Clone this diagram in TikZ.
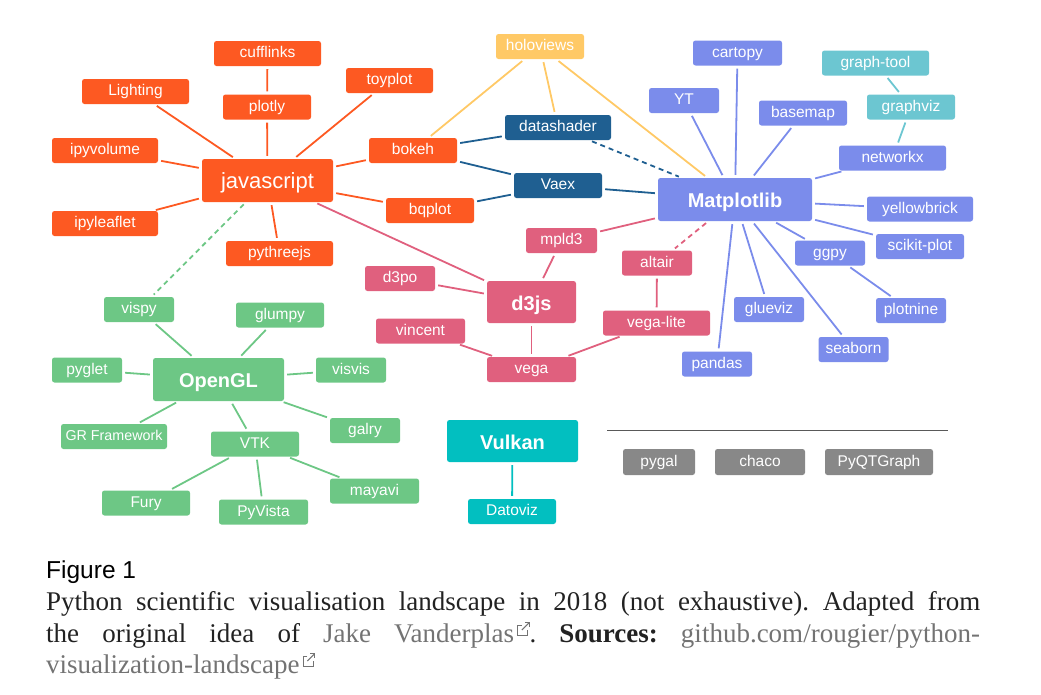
\documentclass[tikz,border=0pt]{standalone}
\usepackage{fontspec}
\setmainfont{Liberation Serif}
\newfontfamily\nodefont{Liberation Sans}
\newfontfamily\figfont{Liberation Sans}
\definecolor{jsO}{RGB}{253,89,34}
\definecolor{holoY}{RGB}{255,201,102}
\definecolor{dsB}{RGB}{31,95,145}
\definecolor{mplB}{RGB}{123,140,235}
\definecolor{gtT}{RGB}{108,198,209}
\definecolor{d3P}{RGB}{224,96,126}
\definecolor{glG}{RGB}{109,199,133}
\definecolor{vkT}{RGB}{2,191,192}
\definecolor{grN}{RGB}{136,136,136}
\definecolor{capC}{RGB}{34,34,34}
\definecolor{linkC}{RGB}{115,115,115}
\newcommand{\extl}{\hspace{3pt}\raisebox{6pt}{\tikz[x=1.2pt,y=1.2pt,line width=1pt,linkC,baseline=0pt]{\draw (4,9)--(0.5,9)--(0.5,0.5)--(9,0.5)--(9,5); \draw (4,5)--(10,11); \draw (6.5,11)--(10,11)--(10,7.5);}}}
\begin{document}
\begin{tikzpicture}[x=1pt,y=-1pt,
  box/.style={rounded corners=2.5pt, inner sep=0pt, minimum height=25pt, text=white,
    text height=12pt, text depth=3.2pt, font=\nodefont\fontsize{15.5}{15.5}\selectfont},
  big/.style={minimum height=43pt, text height=20pt, text depth=4pt, font=\nodefont\bfseries\fontsize{20}{20}\selectfont},
  js/.style={box, fill=jsO},
  holo/.style={box, fill=holoY},
  ds/.style={box, fill=dsB},
  mpl/.style={box, fill=mplB},
  gt/.style={box, fill=gtT},
  d3/.style={box, fill=d3P},
  gl/.style={box, fill=glG},
  vk/.style={box, fill=vkT},
  gr/.style={box, fill=grN, minimum height=26pt},
  ed/.style={line width=1.8pt, shorten <=3pt, shorten >=3pt},
  dsh/.style={ed, dash pattern=on 5pt off 4pt},
]
\useasboundingbox (0,0) rectangle (1041,694);
% javascript group
\node[js, minimum width=107pt] (cufflinks) at (267.5,53.5) {cufflinks};
\node[js, minimum width=107pt] (lighting) at (135.5,91.5) {Lighting};
\node[js, minimum width=87pt] (toyplot) at (389.5,80.5) {toyplot};
\node[js, minimum width=88pt] (plotly) at (267,107) {plotly};
\node[js, minimum width=106pt] (ipyvolume) at (105,150.5) {ipyvolume};
\node[js, big, minimum width=131pt, font=\nodefont\fontsize{22}{22}\selectfont] (javascript) at (267.5,180.5) {javascript};
\node[js, minimum width=88pt] (bokeh) at (413,150.5) {bokeh};
\node[js, minimum width=106pt] (ipyleaflet) at (105,223.5) {ipyleaflet};
\node[js, minimum width=88pt] (bqplot) at (430,210.5) {bqplot};
\node[js, minimum width=107pt] (pythreejs) at (279.5,253.5) {pythreejs};
% holoviews / datashader / vaex
\node[holo, minimum width=88pt] (holoviews) at (540,46.5) {holoviews};
\node[ds, minimum width=106pt] (datashader) at (558,127.5) {datashader};
\node[ds, minimum width=88pt] (vaex) at (558,185.5) {Vaex};
% matplotlib group
\node[mpl, big, minimum width=154pt] (matplotlib) at (735,199.5) {Matplotlib};
\node[mpl, minimum width=89pt] (cartopy) at (737.5,53) {cartopy};
\node[mpl, minimum width=70pt] (yt) at (684,100.5) {YT};
\node[mpl, minimum width=88pt] (basemap) at (803,113) {basemap};
\node[gt, minimum width=107pt] (graphtool) at (875.5,63) {graph-tool};
\node[gt, minimum width=88pt] (graphviz) at (911,107) {graphviz};
\node[mpl, minimum width=107pt] (networkx) at (892.5,158) {networkx};
\node[mpl, minimum width=106pt] (yellowbrick) at (920,209) {yellowbrick};
\node[mpl, minimum width=88pt] (scikitplot) at (920,246.5) {scikit-plot};
\node[mpl, minimum width=70pt] (ggpy) at (830,253) {ggpy};
\node[mpl, minimum width=70pt] (plotnine) at (911,310.5) {plotnine};
\node[mpl, minimum width=70pt] (glueviz) at (769,309.5) {glueviz};
\node[mpl, minimum width=70pt] (seaborn) at (853.5,349.5) {seaborn};
\node[mpl, minimum width=70pt] (pandas) at (717,364) {pandas};
% d3 group
\node[d3, minimum width=71pt] (mpld3) at (561.5,240.5) {mpld3};
\node[d3, minimum width=70pt] (altair) at (657,263) {altair};
\node[d3, minimum width=70pt] (d3po) at (400,278.5) {d3po};
\node[d3, big, minimum width=89pt, minimum height=42pt] (d3js) at (531.5,302) {d3js};
\node[d3, minimum width=107pt] (vegalite) at (656.5,323) {vega-lite};
\node[d3, minimum width=89pt] (vincent) at (420.5,331) {vincent};
\node[d3, minimum width=89pt] (vega) at (531.5,369.5) {vega};
% OpenGL group
\node[gl, minimum width=70pt] (vispy) at (139,309.5) {vispy};
\node[gl, minimum width=88pt] (glumpy) at (280,315) {glumpy};
\node[gl, minimum width=70pt] (pyglet) at (87,370) {pyglet};
\node[gl, big, minimum width=131pt] (opengl) at (218.5,379.5) {OpenGL};
\node[gl, minimum width=70pt] (visvis) at (351,370) {visvis};
\node[gl, minimum width=106pt, font=\nodefont\fontsize{14.3}{14.3}\selectfont] (grf) at (114,436.5) {GR Framework};
\node[gl, minimum width=70pt] (galry) at (365,430.5) {galry};
\node[gl, minimum width=88pt] (vtk) at (255,444) {VTK};
\node[gl, minimum width=88pt] (fury) at (146,503) {Fury};
\node[gl, minimum width=89pt] (pyvista) at (263.5,512) {PyVista};
\node[gl, minimum width=89pt] (mayavi) at (374.5,491) {mayavi};
% Vulkan
\node[vk, big, minimum width=131pt, minimum height=42pt] (vulkan) at (512.5,441) {Vulkan};
\node[vk, minimum width=88pt] (datoviz) at (512,511.5) {Datoviz};
% gray
\coordinate (sepL) at (607,430);
\coordinate (sepR) at (948,430);
\draw[line width=1pt, black!65] (sepL) -- (sepR);
\node[gr, minimum width=72pt] (pygal) at (659,462) {pygal};
\node[gr, minimum width=90pt] (chaco) at (760,462) {chaco};
\node[gr, minimum width=108pt] (pyqtgraph) at (879,462) {PyQTGraph};
% edges
\begin{scope}[jsO]
\draw[ed] (cufflinks) -- (plotly);
\draw[ed] (plotly) -- (javascript);
\draw[ed] (lighting) -- (javascript);
\draw[ed] (toyplot) -- (javascript);
\draw[ed] (ipyvolume) -- (javascript);
\draw[ed] (ipyleaflet) -- (javascript);
\draw[ed] (bokeh) -- (javascript);
\draw[ed] (bqplot) -- (javascript);
\draw[ed] (pythreejs) -- (javascript);
\end{scope}
\draw[dsh, glG] (javascript) -- (vispy);
\draw[ed, d3P] (javascript) -- (d3js);
\begin{scope}[holoY]
\draw[ed] (holoviews) -- (bokeh);
\draw[ed] (holoviews) -- (datashader);
\draw[ed] (holoviews) -- (matplotlib);
\end{scope}
\begin{scope}[dsB]
\draw[ed] (bokeh) -- (datashader);
\draw[ed] (bokeh) -- (vaex);
\draw[ed] (bqplot) -- (vaex);
\draw[ed] (vaex) -- (matplotlib);
\draw[dsh] (datashader) -- (matplotlib);
\end{scope}
\begin{scope}[mplB]
\draw[ed] (matplotlib) -- (cartopy);
\draw[ed] (matplotlib) -- (yt);
\draw[ed] (matplotlib) -- (basemap);
\draw[ed] (matplotlib) -- (networkx);
\draw[ed] (matplotlib) -- (yellowbrick);
\draw[ed] (matplotlib) -- (scikitplot);
\draw[ed] (matplotlib) -- (ggpy);
\draw[ed] (matplotlib) -- (glueviz);
\draw[ed] (matplotlib) -- (seaborn);
\draw[ed] (matplotlib) -- (pandas);
\draw[ed] (ggpy) -- (plotnine);
\end{scope}
\begin{scope}[gtT]
\draw[ed] (graphtool) -- (graphviz);
\draw[ed] (graphviz) -- (networkx);
\end{scope}
\begin{scope}[d3P]
\draw[ed] (matplotlib) -- (mpld3);
\draw[dsh] (matplotlib) -- (altair);
\draw[ed] (mpld3) -- (d3js);
\draw[ed] (d3po) -- (d3js);
\draw[ed] (d3js) -- (vega);
\draw[ed] (vincent) -- (vega);
\draw[ed] (vegalite) -- (vega);
\draw[ed] (altair) -- (vegalite);
\end{scope}
\begin{scope}[glG]
\draw[ed] (opengl) -- (vispy);
\draw[ed] (opengl) -- (glumpy);
\draw[ed] (opengl) -- (pyglet);
\draw[ed] (opengl) -- (visvis);
\draw[ed] (opengl) -- (grf);
\draw[ed] (opengl) -- (galry);
\draw[ed] (opengl) -- (vtk);
\draw[ed] (vtk) -- (fury);
\draw[ed] (vtk) -- (pyvista);
\draw[ed] (vtk) -- (mayavi);
\end{scope}
\draw[ed, vkT] (vulkan) -- (datoviz);
% caption
\node[anchor=base west, inner sep=0pt, font=\figfont\fontsize{24.5}{24.5}\selectfont] (fig) at (46,578) {Figure 1};
\node[anchor=base west, inner sep=0pt, text=capC, font=\fontsize{27}{27}\selectfont\frenchspacing] (cap1) at (46,610)
  {\makebox[934pt][s]{Python scientific visualisation landscape in 2018 (not exhaustive). Adapted from}};
\node[anchor=base west, inner sep=0pt, text=capC, font=\fontsize{27}{27}\selectfont\frenchspacing] (cap2) at (46,642)
  {\makebox[934pt][s]{the original idea of {\color{linkC}Jake Vanderplas}\extl. \textbf{Sources:} {\color{linkC}github.com/rougier/python-}}};
\node[anchor=base west, inner sep=0pt, text=capC, font=\fontsize{27}{27}\selectfont\frenchspacing] (cap3) at (46,673)
  {{\color{linkC}visualization-landscape}\extl};
\end{tikzpicture}
\end{document}
